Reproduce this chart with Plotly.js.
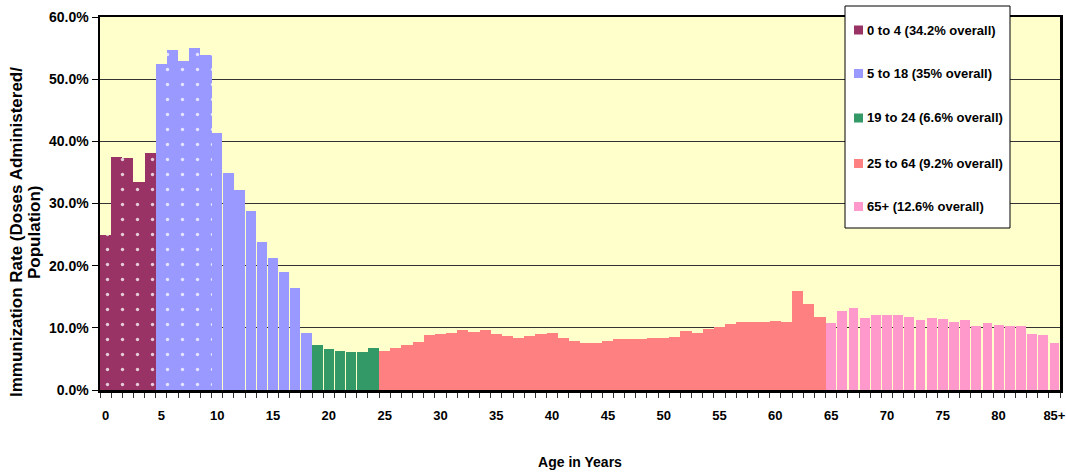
<!DOCTYPE html>
<html>
<head>
<meta charset="utf-8">
<script src="https://cdn.plot.ly/plotly-3.0.1.min.js"></script>
<style>
  html, body { margin: 0; padding: 0; background: #ffffff; }
  #chart { width: 1066px; height: 474px; }
</style>
</head>
<body>
<div id="chart"></div>
<script>
// ---- data ----
const groupNames   = ['0 to 4', '5 to 18', '19 to 24', '25 to 64', '65+'];
const groupOverall = ['34.2%', '35%', '6.6%', '9.2%', '12.6%'];
const groupStartAge = [0, 5, 19, 25, 65];
const groupColors  = ['#993366', '#9999FF', '#339966', '#FF8080', '#FF99CC'];

const rates0to4   = [24.9, 37.5, 37.3, 33.5, 38.1];
const rates5to18  = [52.4, 54.7, 52.9, 55.0, 53.9, 41.3, 34.9, 32.2, 28.8, 23.8, 21.2, 19.0, 16.4, 9.2];
const rates19to24 = [7.2, 6.6, 6.3, 6.1, 6.1, 6.75];
const rates25to64 = [6.3, 6.75, 7.2, 7.7, 8.85, 9.0, 9.2, 9.65, 9.3, 9.65,
                     9.0, 8.7, 8.4, 8.7, 9.0, 9.2, 8.4, 7.9, 7.55, 7.55,
                     7.9, 8.2, 8.2, 8.2, 8.4, 8.4, 8.5, 9.5, 9.2, 9.8,
                     10.1, 10.6, 10.9, 10.9, 10.9, 11.1, 10.9, 15.9, 13.8, 11.7];
const rates65plus = [10.8, 12.7, 13.2, 11.6, 12.0, 12.0, 12.0, 11.7, 11.2, 11.6,
                     11.4, 10.9, 11.2, 10.3, 10.8, 10.45, 10.3, 10.3, 9.0, 8.85, 7.55];
const dottedAges  = [0, 1, 2, 3, 4, 5, 6, 7, 8, 9];

const tickAges   = [0, 5, 10, 15, 20, 25, 30, 35, 40, 45, 50, 55, 60, 65, 70, 75, 80, 85];
const tickLabels = ['0', '5', '10', '15', '20', '25', '30', '35', '40', '45', '50', '55', '60', '65', '70', '75', '80', '85+'];
const yTicks     = [0, 10, 20, 30, 40, 50, 60];
const yTickLabels = ['0.0%', '10.0%', '20.0%', '30.0%', '40.0%', '50.0%', '60.0%'];

const groupRates = [rates0to4, rates5to18, rates19to24, rates25to64, rates65plus];
const groupWidths = [1.0, 0.92, 0.95, 1.0, 0.88];

// ---- geometry helpers (layout only) ----
const W = 1066, H = 474;
const M = {l: 100, r: 6, t: 17, b: 84};
const PW = W - M.l - M.r, PH = H - M.t - M.b;
const px = x => (x - M.l) / PW;
const py = y => (H - M.b - y) / PH;

const FONT = 'Liberation Sans, Arial, Helvetica, sans-serif';

const traces = groupRates.map((vals, g) => {
  const xs = vals.map((v, i) => groupStartAge[g] + i);
  const shapes = xs.map(a => dottedAges.includes(a) ? '.' : '');
  const widths = xs.map(a => dottedAges.includes(a) ? 1.0 : groupWidths[g]);
  return {
    type: 'bar',
    name: groupNames[g] + ' (' + groupOverall[g] + ' overall)',
    x: xs,
    y: vals,
    width: widths,
    showlegend: false,
    hoverinfo: 'x+y',
    marker: {
      color: groupColors[g],
      line: {width: 0},
      pattern: {
        shape: shapes,
        fillmode: 'replace',
        bgcolor: groupColors[g],
        fgcolor: 'rgba(255,255,255,0.75)',
        size: 15,
        solidity: 0.04
      }
    }
  };
});

// manual legend box (drawn above the plot like the reference)
const legendShapes = [{
  type: 'rect', xref: 'paper', yref: 'paper', layer: 'above',
  x0: px(845), x1: px(1010), y0: py(228), y1: py(6),
  fillcolor: '#ffffff', line: {color: '#000000', width: 1}
}];
const legendRows = [30, 73.5, 118, 163.5, 206.5];
const legendAnn = [];
groupNames.forEach((n, g) => {
  const cy = legendRows[g];
  legendShapes.push({
    type: 'rect', xref: 'paper', yref: 'paper', layer: 'above',
    x0: px(854), x1: px(863), y0: py(cy + 4.5), y1: py(cy - 4.5),
    fillcolor: groupColors[g], line: {width: 0}
  });
  legendAnn.push({
    xref: 'paper', yref: 'paper', x: px(865), y: py(cy),
    xanchor: 'left', yanchor: 'middle', showarrow: false,
    text: n + ' (' + groupOverall[g] + ' overall)',
    font: {family: FONT, size: 13, weight: 'bold', color: '#000000'}
  });
});

// y axis title as two rotated lines
const yTitleAnn = [
  {xref: 'paper', yref: 'paper', x: px(17), y: py(232), xanchor: 'center', yanchor: 'middle',
   showarrow: false, textangle: -90, text: 'Immunization Rate (Doses Administered/',
   font: {family: FONT, size: 17, weight: 'bold', color: '#000000'}},
  {xref: 'paper', yref: 'paper', x: px(35), y: py(233), xanchor: 'center', yanchor: 'middle',
   showarrow: false, textangle: -90, text: 'Population)',
   font: {family: FONT, size: 17, weight: 'bold', color: '#000000'}}
];

const layout = {
  width: W, height: H,
  margin: M,
  paper_bgcolor: '#ffffff',
  plot_bgcolor: '#FFFFCC',
  barmode: 'overlay',
  bargap: 0,
  showlegend: false,
  font: {family: FONT, color: '#000000'},
  xaxis: {
    range: [-0.5, 85.5],
    tickmode: 'array',
    tickvals: tickAges,
    ticktext: tickLabels,
    ticks: 'outside',
    ticklen: 12,
    tickcolor: 'rgba(0,0,0,0)',
    tickfont: {family: FONT, size: 13, weight: 'bold', color: '#000000'},
    showgrid: false,
    zeroline: false,
    showline: true,
    linecolor: '#000000',
    linewidth: 2.5,
    mirror: true,
    minor: {tick0: -0.5, dtick: 1, ticks: 'outside', ticklen: 5, tickwidth: 1, tickcolor: '#333333', showgrid: false},
    title: {text: 'Age in Years', standoff: 35,
            font: {family: FONT, size: 14, weight: 'bold', color: '#000000'}},
    automargin: false,
    fixedrange: true
  },
  yaxis: {
    range: [0, 60],
    tickmode: 'array',
    tickvals: yTicks,
    ticktext: yTickLabels,
    ticks: 'outside',
    ticklen: 6,
    tickwidth: 1,
    tickcolor: '#000000',
    tickfont: {family: FONT, size: 14, weight: 'bold', color: '#000000'},
    showgrid: true,
    gridcolor: '#333333',
    gridwidth: 1,
    zeroline: false,
    showline: true,
    linecolor: '#000000',
    linewidth: 2.5,
    mirror: true,
    automargin: false,
    fixedrange: true
  },
  shapes: legendShapes,
  annotations: legendAnn.concat(yTitleAnn)
};

Plotly.newPlot('chart', traces, layout, {displayModeBar: false, staticPlot: true});
</script>
</body>
</html>
